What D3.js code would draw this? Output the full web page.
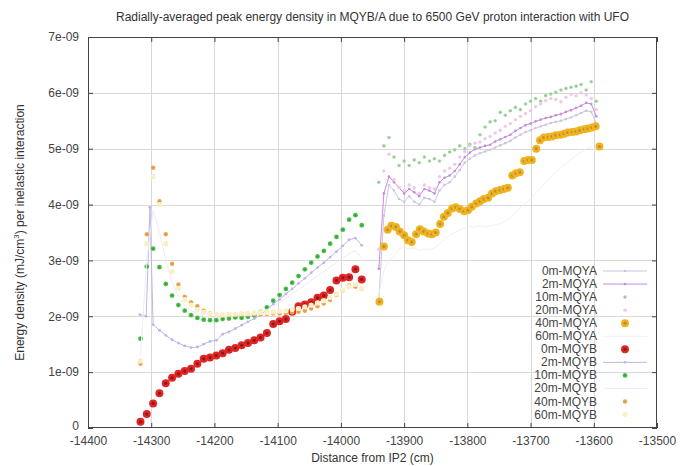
<!DOCTYPE html>
<html>
<head>
<meta charset="utf-8">
<script src="https://cdn.jsdelivr.net/npm/d3@7/dist/d3.min.js"></script>
<style>
  html, body { margin: 0; padding: 0; background: #fff; }
  svg { display: block; font-family: "Liberation Sans", Arial, sans-serif; }
</style>
</head>
<body>
<svg id="chart" width="681" height="466"></svg>
<script>
// Energy density values are in units of 1e-09 mJ/cm^3 per inelastic interaction.
const xTicks = [-14400, -14300, -14200, -14100, -14000, -13900, -13800, -13700, -13600, -13500];
const yTicks = [0, 1, 2, 3, 4, 5, 6, 7];

// UFO positions along MQYB (cm from IP2)
const posB = [-14317, -14307, -14297, -14287, -14277, -14267, -14257, -14247, -14237, -14227,
  -14217, -14207, -14197, -14187, -14177, -14167, -14157, -14147, -14137, -14127,
  -14117, -14107, -14097, -14087, -14077, -14067, -14057, -14047, -14037, -14027,
  -14017, -14007, -13997, -13987, -13977, -13967];
const posB2 = [-14318, -14308, -14302, -14297, -14287, -14277, -14267, -14257, -14247, -14237,
  -14227, -14217, -14207, -14197, -14187, -14177, -14167, -14157, -14147, -14137,
  -14127, -14117, -14107, -14097, -14087, -14077, -14067, -14057, -14047, -14037,
  -14027, -14017, -14007, -13997, -13987, -13977, -13967];

// UFO positions along MQYA (cm from IP2)
const posA = [-13940, -13932, -13924, -13916, -13908, -13900, -13892, -13884, -13876, -13868,
  -13860, -13852, -13844, -13836, -13828, -13820, -13812, -13804, -13796, -13788,
  -13780, -13772, -13764, -13756, -13748, -13740, -13732, -13724, -13716, -13708,
  -13700, -13692, -13684, -13676, -13668, -13660, -13652, -13644, -13636, -13628,
  -13620, -13612, -13604, -13596];
const posA40 = [-13939, -13932, -13926, -13920, -13913, -13907, -13900, -13894, -13888, -13881,
  -13875, -13869, -13862, -13856, -13850, -13843, -13837, -13831, -13824, -13818,
  -13812, -13805, -13799, -13793, -13786, -13780, -13774, -13767, -13761, -13755,
  -13748, -13742, -13736, -13729, -13723, -13717, -13710, -13704, -13698, -13691,
  -13685, -13679, -13672, -13666, -13660, -13653, -13647, -13641, -13634, -13628,
  -13622, -13615, -13609, -13603, -13597, -13591];

// MQYA series
const mqyA0m = [2.30, 3.80, 4.35, 4.25, 4.10, 4.05, 4.15, 4.05, 4.00, 4.12, 4.10, 4.05, 4.25, 4.35, 4.40,
  4.50, 4.62, 4.75, 4.82, 4.88, 4.92, 4.95, 4.98, 5.02, 5.06, 5.10, 5.14, 5.20, 5.25, 5.30,
  5.33, 5.37, 5.40, 5.43, 5.46, 5.48, 5.50, 5.53, 5.56, 5.60, 5.64, 5.68, 5.66, 5.45];
const mqyA2m = [2.85, 4.20, 4.50, 4.40, 4.30, 4.20, 4.28, 4.22, 4.15, 4.28, 4.25, 4.20, 4.40, 4.48, 4.52,
  4.60, 4.72, 4.85, 4.93, 4.99, 5.02, 5.05, 5.07, 5.13, 5.17, 5.21, 5.25, 5.32, 5.37, 5.42,
  5.45, 5.49, 5.52, 5.55, 5.57, 5.60, 5.62, 5.66, 5.69, 5.73, 5.77, 5.82, 5.80, 5.58];
const mqyA10m = [4.40, 5.05, 5.20, 4.85, 4.70, 4.78, 4.70, 4.80, 4.75, 4.85, 4.78, 4.82, 4.78, 4.88, 4.94,
  4.98, 5.05, 5.00, 5.08, 5.02, 5.25, 5.39, 5.48, 5.50, 5.65, 5.60, 5.68, 5.74, 5.70, 5.80,
  5.85, 5.90, 5.85, 5.95, 5.98, 6.01, 6.05, 6.08, 6.10, 6.12, 6.15, 6.05, 6.20, 5.85];
const mqyA20m = [3.20, 4.60, 4.90, 4.45, 4.30, 4.25, 4.35, 4.30, 4.20, 4.35, 4.30, 4.28, 4.50, 4.60, 4.65,
  4.72, 4.85, 4.95, 5.05, 5.10, 5.12, 5.18, 5.22, 5.28, 5.33, 5.40, 5.45, 5.52, 5.58, 5.63,
  5.68, 5.75, 5.80, 5.86, 5.90, 5.88, 5.84, 5.92, 5.97, 5.95, 6.00, 5.96, 5.90, 5.70];
const mqyA40m = [2.26, 3.25, 3.55, 3.62, 3.60, 3.52, 3.45, 3.36, 3.33, 3.47, 3.56, 3.52, 3.48, 3.47, 3.50,
  3.65, 3.78, 3.85, 3.93, 3.95, 3.92, 3.88, 3.90, 3.96, 4.02, 4.06, 4.10, 4.12, 4.20, 4.24,
  4.26, 4.28, 4.30, 4.52, 4.56, 4.58, 4.78, 4.80, 4.80, 5.00, 5.15, 5.20, 5.21, 5.22, 5.24,
  5.25, 5.27, 5.29, 5.30, 5.31, 5.33, 5.35, 5.36, 5.38, 5.40, 5.04];
const mqyA60m = [2.40, 2.80, 3.00, 3.10, 3.20, 3.25, 3.20, 3.22, 3.18, 3.20, 3.20, 3.22, 3.30, 3.38, 3.45,
  3.50, 3.55, 3.58, 3.60, 3.60, 3.62, 3.60, 3.62, 3.64, 3.66, 3.70, 3.78, 3.86, 3.95, 4.02,
  4.10, 4.20, 4.30, 4.40, 4.50, 4.58, 4.66, 4.74, 4.82, 4.88, 4.94, 5.00, 5.02, 4.95];

// MQYB series
const mqyB0m = [0.11, 0.25, 0.44, 0.62, 0.80, 0.90, 0.97, 1.02, 1.06, 1.15, 1.24, 1.26, 1.30, 1.34, 1.40,
  1.43, 1.48, 1.52, 1.57, 1.62, 1.70, 1.86, 1.91, 1.95, 2.08, 2.18, 2.21, 2.25, 2.33, 2.37,
  2.47, 2.64, 2.69, 2.70, 2.84, 2.66];
const mqyB2m = [2.03, 2.00, 3.95, 1.85, 1.75, 1.66, 1.58, 1.52, 1.47, 1.44, 1.45, 1.50, 1.55, 1.57, 1.68,
  1.72, 1.78, 1.84, 1.90, 1.96, 2.02, 2.12, 2.22, 2.30, 2.40, 2.49, 2.59, 2.68, 2.78, 2.87,
  2.96, 3.06, 3.16, 3.26, 3.37, 3.40, 3.27];
const mqyB10m = [1.60, 2.89, 3.21, 2.88, 2.58, 2.37, 2.20, 2.10, 2.02, 1.97, 1.94, 1.93, 1.93, 1.95, 1.96,
  1.98, 1.97, 1.99, 2.02, 2.08, 2.16, 2.28, 2.38, 2.49, 2.60, 2.72, 2.84, 2.96, 3.07, 3.17,
  3.30, 3.42, 3.55, 3.73, 3.81, 3.63];
const mqyB20m = [1.30, 3.00, 3.90, 3.50, 3.00, 2.60, 2.35, 2.20, 2.10, 2.05, 2.00, 1.98, 1.98, 1.99, 2.00,
  2.01, 2.02, 2.03, 2.05, 2.08, 2.12, 2.18, 2.25, 2.32, 2.40, 2.48, 2.56, 2.64, 2.72, 2.80,
  2.88, 2.96, 3.05, 3.12, 3.18, 3.05];
const mqyB40m = [1.15, 3.47, 4.66, 4.06, 3.47, 2.94, 2.57, 2.35, 2.25, 2.18, 2.10, 2.05, 2.03, 2.02, 2.02,
  2.03, 2.03, 2.03, 2.04, 2.04, 2.04, 2.05, 2.05, 2.06, 2.07, 2.08, 2.10, 2.14, 2.18, 2.23,
  2.29, 2.38, 2.46, 2.55, 2.53, 2.49];
const mqyB60m = [1.20, 3.30, 4.50, 4.00, 3.30, 2.80, 2.50, 2.30, 2.20, 2.12, 2.07, 2.04, 2.03, 2.03, 2.04,
  2.04, 2.05, 2.05, 2.06, 2.07, 2.07, 2.08, 2.09, 2.10, 2.12, 2.14, 2.17, 2.20, 2.24, 2.28,
  2.34, 2.40, 2.47, 2.53, 2.57, 2.50];

const seriesNames = ["0m-MQYA", "2m-MQYA", "10m-MQYA", "20m-MQYA", "40m-MQYA", "60m-MQYA",
  "0m-MQYB", "2m-MQYB", "10m-MQYB", "20m-MQYB", "40m-MQYB", "60m-MQYB"];

// Drawing styles for each series, in the same order as the names
const styles = [
  { color: "#cbc5de", line: true,  r: 1.3, core: null },
  { color: "#c48be0", line: true,  r: 1.3, core: null },
  { color: "#a3dca3", line: false, r: 1.8, core: "#8fb48f" },
  { color: "#f0c8e6", line: false, r: 1.7, core: null },
  { color: "#f2b31c", line: false, r: 4.0, core: "#a68a4a" },
  { color: "#f1f1f1", line: true,  r: 0,   core: null },
  { color: "#e22424", line: false, r: 4.0, core: "#6a1b1b" },
  { color: "#b9b7ea", line: true,  r: 1.4, core: null },
  { color: "#45c445", line: false, r: 2.4, core: "#4d7a4d" },
  { color: "#f4e9f4", line: true,  r: 0,   core: null },
  { color: "#f2a545", line: false, r: 2.2, core: "#b79a80" },
  { color: "#fbefc8", line: false, r: 2.6, core: null }
];

const seriesData = [
  [posA, mqyA0m], [posA, mqyA2m], [posA, mqyA10m], [posA, mqyA20m], [posA40, mqyA40m], [posA, mqyA60m],
  [posB, mqyB0m], [posB2, mqyB2m], [posB, mqyB10m], [posB, mqyB20m], [posB, mqyB40m], [posB, mqyB60m]
];

const plotL = 88, plotR = 657, plotT = 37, plotB = 428;
const svg = d3.select("#chart");

const x = d3.scaleLinear().domain([-14400, -13500]).range([plotL, plotR]);
const y = d3.scaleLinear().domain([0, 7]).range([plotB, plotT]);

// Grid
const grid = svg.append("g").attr("stroke", "#d9d9d9").attr("stroke-width", 1);
xTicks.slice(1, -1).forEach(t => {
  grid.append("line").attr("x1", Math.round(x(t)) + 0.5).attr("x2", Math.round(x(t)) + 0.5)
    .attr("y1", plotT).attr("y2", plotB);
});
yTicks.slice(1, -1).forEach(t => {
  grid.append("line").attr("y1", Math.round(y(t)) + 0.5).attr("y2", Math.round(y(t)) + 0.5)
    .attr("x1", plotL).attr("x2", plotR);
});

// Data
svg.append("clipPath").attr("id", "plotclip").append("rect")
  .attr("x", plotL).attr("y", plotT).attr("width", plotR - plotL).attr("height", plotB - plotT);
const plot = svg.append("g").attr("clip-path", "url(#plotclip)");

function drawMarker(g, cx, cy, st) {
  if (st.r <= 0) return;
  g.append("circle").attr("cx", cx).attr("cy", cy).attr("r", st.r).attr("fill", st.color);
  if (st.core) {
    g.append("circle").attr("cx", cx).attr("cy", cy).attr("r", Math.max(0.8, st.r * 0.4))
      .attr("fill", st.core).attr("opacity", 0.8);
  }
}

seriesData.forEach(([xs, ys], i) => {
  const st = styles[i];
  const pts = xs.map((v, k) => [x(v), y(ys[k])]);
  const g = plot.append("g");
  if (st.line) {
    g.append("path").attr("d", d3.line()(pts)).attr("fill", "none")
      .attr("stroke", st.color).attr("stroke-width", 1);
  }
  pts.forEach(p => drawMarker(g, p[0], p[1], st));
});

// Axes with inward ticks on all four sides
const fmtY = d => d === 0 ? "0" : d + "e-09";
const axB = svg.append("g").attr("transform", `translate(0,${plotB})`)
  .call(d3.axisBottom(x).tickValues(xTicks).tickFormat(d3.format("d")).tickSizeInner(-5).tickSizeOuter(0).tickPadding(8));
const axT = svg.append("g").attr("transform", `translate(0,${plotT})`)
  .call(d3.axisTop(x).tickValues(xTicks).tickFormat("").tickSizeInner(-5).tickSizeOuter(0));
const axL = svg.append("g").attr("transform", `translate(${plotL},0)`)
  .call(d3.axisLeft(y).tickValues(yTicks).tickFormat(fmtY).tickSizeInner(-5).tickSizeOuter(0).tickPadding(9));
const axR = svg.append("g").attr("transform", `translate(${plotR},0)`)
  .call(d3.axisRight(y).tickValues(yTicks).tickFormat("").tickSizeInner(-5).tickSizeOuter(0));
[axB, axT, axL, axR].forEach(a => {
  a.select(".domain").remove();
  a.selectAll(".tick line").attr("stroke", "#444");
  a.selectAll(".tick text").attr("fill", "#444").attr("font-size", 12)
    .attr("font-family", "'Liberation Sans', Arial, sans-serif");
});
axB.selectAll(".tick text").text(d => String(d));
// the zero label sits a little above its tick so it clears the x labels
axL.selectAll(".tick").filter(d => d === 0).select("text").attr("dy", "0.1em");

// Frame
svg.append("rect").attr("x", plotL + 0.5).attr("y", plotT + 0.5)
  .attr("width", plotR - plotL - 1).attr("height", plotB - plotT - 1)
  .attr("fill", "none").attr("stroke", "#444").attr("stroke-width", 1);

// Legend
const legend = svg.append("g");
seriesNames.forEach((name, i) => {
  const ly = 271 + i * 13.05;
  const st = styles[i];
  legend.append("text").attr("x", 597).attr("y", ly + 4).attr("text-anchor", "end")
    .attr("font-size", 12).attr("fill", "#444").text(name);
  if (st.line) {
    legend.append("line").attr("x1", 603).attr("x2", 647).attr("y1", ly).attr("y2", ly)
      .attr("stroke", st.color).attr("stroke-width", 1);
  }
  drawMarker(legend, 625, ly, st);
});

// Titles
svg.append("text").attr("x", (plotL + plotR) / 2).attr("y", 21).attr("text-anchor", "middle")
  .attr("font-size", 12).attr("fill", "#333")
  .text("Radially-averaged peak energy density in MQYB/A due to 6500 GeV proton interaction with UFO");

svg.append("text").attr("x", (plotL + plotR) / 2).attr("y", 462).attr("text-anchor", "middle")
  .attr("font-size", 12).attr("fill", "#333").text("Distance from IP2 (cm)");

const yTitle = svg.append("text")
  .attr("transform", `translate(24,${(plotT + plotB) / 2}) rotate(-90)`)
  .attr("text-anchor", "middle").attr("font-size", 12).attr("fill", "#333");
yTitle.append("tspan").text("Energy density (mJ/cm");
yTitle.append("tspan").attr("font-size", 8).attr("dy", -5).text("3");
yTitle.append("tspan").attr("dy", 5).text(") per inelastic interaction");
</script>
</body>
</html>
